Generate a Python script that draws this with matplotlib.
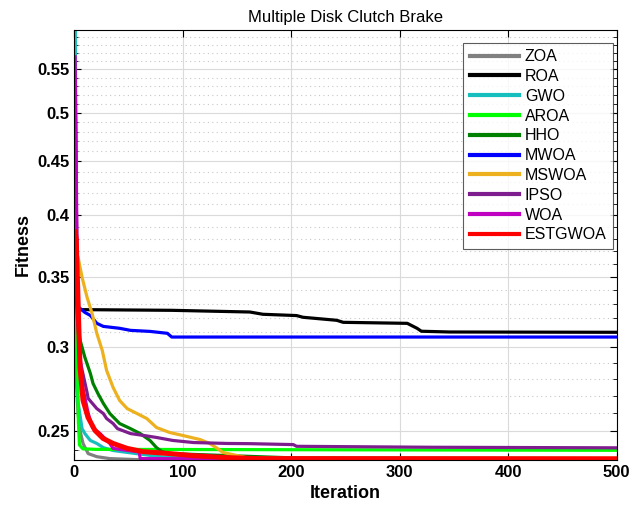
import matplotlib
matplotlib.use("Agg")
import matplotlib.pyplot as plt
from matplotlib.ticker import FixedLocator, NullFormatter, FixedFormatter
import numpy as np

plt.rcParams['font.family'] = ['Liberation Sans', 'DejaVu Sans']

# ---- data (iteration, fitness) ----
zoa_x = [1, 2, 3.7, 5.5, 8.3, 13, 21, 33, 58, 500]
zoa_y = [0.30, 0.28, 0.2597, 0.2503, 0.2433, 0.2380, 0.2364, 0.2354, 0.2349, 0.2348]

roa_x = [1, 3, 4, 90, 162, 174, 205, 211, 242, 248, 307, 316, 320, 346, 500]
roa_y = [0.557, 0.33, 0.3257, 0.3252, 0.3240, 0.3224, 0.3215, 0.3203, 0.3182, 0.3168,
         0.3161, 0.3127, 0.3107, 0.3102, 0.3100]

gwo_x = [1, 2, 3.5, 7.4, 10, 15, 21, 27, 36, 49, 64, 79, 93, 200, 500]
gwo_y = [0.70, 0.32, 0.267, 0.2513, 0.2486, 0.2449, 0.2433, 0.2411, 0.2396, 0.2386,
         0.2375, 0.2364, 0.2359, 0.2355, 0.2354]

aroa_x = [1, 3, 4, 5, 8, 20, 500]
aroa_y = [0.353, 0.30, 0.255, 0.2425, 0.2405, 0.2402, 0.2397]

hho_x = [1, 3.7, 5.5, 10, 15, 17.5, 22, 27, 33, 42, 52, 61, 70, 76, 81, 88, 200, 500]
hho_y = [0.36, 0.315, 0.305, 0.2935, 0.2835, 0.2773, 0.2713, 0.2655, 0.2597, 0.2541,
         0.2513, 0.2486, 0.2449, 0.2411, 0.2390, 0.2380, 0.2358, 0.2354]

mwoa_x = [1, 3, 5.5, 10, 15, 21, 27, 42, 52, 70, 86, 90, 500]
mwoa_y = [0.34, 0.328, 0.3266, 0.3237, 0.3216, 0.3161, 0.3140, 0.3127, 0.3113, 0.3106,
          0.3093, 0.3068, 0.3068]

mswoa_x = [1, 3.7, 7.4, 12, 16.6, 21, 26, 30, 36, 42, 49, 58, 67, 76, 88, 100, 116,
           125, 132, 137, 146, 159, 171, 500]
mswoa_y = [0.37, 0.365, 0.3495, 0.3346, 0.3231, 0.3093, 0.2980, 0.2853, 0.2749, 0.2672,
           0.2625, 0.2597, 0.2569, 0.2519, 0.2492, 0.2476, 0.2454, 0.2433, 0.2407,
           0.2386, 0.2375, 0.2359, 0.2356, 0.2356]

ipso_x = [1, 3, 6, 12, 13, 21, 27, 30, 36, 40, 52, 64, 76, 91, 110, 141, 162, 202, 205,
          328, 500]
ipso_y = [0.37, 0.32, 0.29, 0.2719, 0.2684, 0.2625, 0.2597, 0.2569, 0.2541, 0.2513,
          0.2486, 0.2476, 0.2465, 0.2449, 0.2438, 0.2433, 0.2432, 0.2427, 0.2418,
          0.2413, 0.2410]

woa_x = [1, 2, 3, 5, 8, 13, 17, 24, 33, 36, 42, 58, 60, 61, 500]
woa_y = [0.565, 0.45, 0.35, 0.30, 0.275, 0.26, 0.2519, 0.2486, 0.2433, 0.2407, 0.2402,
         0.2390, 0.2390, 0.2354, 0.2350]

est_x = [1, 2, 3.7, 5.5, 8.3, 12.9, 19.3, 26.7, 36, 49, 63.5, 88, 110, 141, 171, 500]
est_y = [0.3856, 0.38, 0.3324, 0.2872, 0.2672, 0.2575, 0.2503, 0.2460, 0.2433, 0.2407,
         0.2390, 0.2380, 0.2369, 0.2359, 0.2354, 0.2353]

names = ['ZOA', 'ROA', 'GWO', 'AROA', 'HHO', 'MWOA', 'MSWOA', 'IPSO', 'WOA', 'ESTGWOA']
colors = ['#808080', '#000000', '#17BEBE', '#00FF00', '#008000', '#0000FF', '#EDB120',
          '#7E1E8E', '#C000C0', '#FF0000']
series = [(zoa_x, zoa_y), (roa_x, roa_y), (gwo_x, gwo_y), (aroa_x, aroa_y),
          (hho_x, hho_y), (mwoa_x, mwoa_y), (mswoa_x, mswoa_y), (ipso_x, ipso_y),
          (woa_x, woa_y), (est_x, est_y)]
widths = [2.3, 2.3, 2.3, 2.3, 2.3, 2.3, 2.3, 2.3, 2.3, 3.6]

yticks = [0.25, 0.3, 0.35, 0.4, 0.45, 0.5, 0.55]
ytick_labels = ['0.25', '0.3', '0.35', '0.4', '0.45', '0.5', '0.55']
xticks = [0, 100, 200, 300, 400, 500]

fig = plt.figure(figsize=(6.3, 5.12), dpi=100)
ax = fig.add_axes([0.1175, 0.1016, 0.8615, 0.8398])

for (xs, ys), n, c, w in zip(series, names, colors, widths):
    ax.plot(xs, ys, color=c, lw=w, label=n, solid_joinstyle='round')

ax.set_yscale('log')
ax.set_xlim(0, 500)
ax.set_ylim(0.2347, 0.599)

ax.yaxis.set_major_locator(FixedLocator(yticks))
ax.yaxis.set_major_formatter(FixedFormatter(ytick_labels))
minor = [round(v, 2) for v in np.arange(0.24, 0.60, 0.01) if round(v, 2) not in yticks]
ax.yaxis.set_minor_locator(FixedLocator(minor))
ax.yaxis.set_minor_formatter(NullFormatter())
ax.set_xticks(xticks)

ax.grid(True, which='major', color='#DADADA', lw=0.8, ls='-')
ax.grid(True, which='minor', axis='y', color='#C8C8C8', lw=0.8, ls=(0, (1, 3)))
ax.set_axisbelow(True)

ax.tick_params(which='both', direction='in', top=True, right=True)
ax.tick_params(which='major', length=5, width=0.8, labelsize=12)
ax.tick_params(which='minor', length=3, width=0.6)
for lab in ax.get_xticklabels() + ax.get_yticklabels():
    lab.set_fontweight('bold')
for s in ax.spines.values():
    s.set_linewidth(0.8)

ax.set_xlabel('Iteration', fontsize=13, fontweight='bold', labelpad=4)
ax.set_ylabel('Fitness', fontsize=13, fontweight='bold', labelpad=4)
ax.set_title('Multiple Disk Clutch Brake', fontsize=12, pad=6)

leg = ax.legend(loc='upper right', bbox_to_anchor=(0.993, 0.97), fontsize=11.5,
                frameon=True, fancybox=False, edgecolor='#333333', handlelength=3.1,
                handletextpad=0.35, labelspacing=0.3, borderpad=0.4, borderaxespad=0)
leg.get_frame().set_linewidth(0.8)
for l in leg.get_lines():
    l.set_linewidth(3.0)

fig.savefig('out.png', dpi=100)
